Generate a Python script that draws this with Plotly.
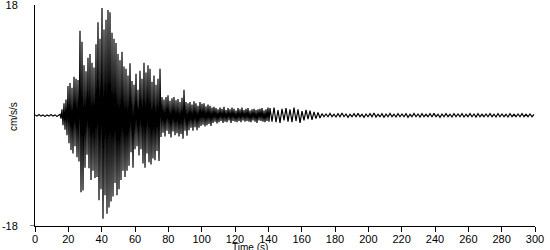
import numpy as np
import plotly.graph_objects as go

# ---- data ----
pre_t0, pre_dt = 0.0, 1.2
pre_vals = [0.1, -0.1, 0.15, -0.1, 0.1, -0.15, 0.1, -0.1, 0.15, -0.1, 0.1, -0.15, 0.1]

strong_t0, strong_dt = 15.0, 0.6
strong_vals = [
    0.2, -0.5, 1.0, -1.6, 2.0, -2.3, 2.6, -3.2, 4.8, -4.5,
    5.3, -5.6, 4.5, -6.2, 6.3, -5.0, 6.0, -6.8, 5.8, -7.5,
    13.8, -12.5, 12.0, -12.2, 8.2, -8.5, 7.2, -6.4, 9.4, -8.6,
    10.0, -10.5, 8.6, -9.0, 7.8, -10.2, 11.6, -10.0, 15.2, -13.8,
    12.5, -12.0, 17.5, -16.8, 14.0, -13.0, 15.6, -16.0, 17.2, -15.0,
    16.8, -14.0, 13.5, -13.2, 12.5, -11.0, 11.8, -13.0, 10.0, -12.0,
    9.0, -10.5, 10.4, -9.0, 8.0, -10.0, 7.6, -9.0, 6.5, -8.2,
    8.5, -6.0, 5.6, -8.5, 5.0, -5.5, 6.8, -5.0, 4.2, -6.5,
    7.3, -5.5, 6.0, -7.8, 8.6, -8.5, 7.0, -6.2, 8.2, -7.6,
    7.6, -8.0, 5.5, -7.0, 6.5, -7.3, 5.0, -5.8, 6.0, -7.4,
    7.6, -3.5, 3.0, -2.8, 2.6, -3.4, 3.0, -2.5, 3.3, -3.0,
    2.4, -3.6, 2.8, -2.6, 3.0, -3.2, 2.5, -2.9, 2.7, -3.4,
    2.2, -3.0, 2.9, -3.8, 4.2, -2.5, 2.2, -3.3, 2.0, -2.4,
    2.2, -2.0, 1.8, -2.5, 2.3, -1.9, 2.0, -2.4, 1.6, -2.0,
    2.2, -1.7, 1.9, -1.5, 2.0, -1.8, 1.5, -1.6, 1.8, -1.4,
    1.6, -1.7, 1.3, -1.2, 1.4, -1.0, 1.2, -1.3, 1.0, -1.1,
    1.3, -0.9, 1.1, -1.2, 1.4, -1.0, 0.9, -1.1, 1.2, -0.8,
    1.0, -1.2, 1.3, -0.9, 1.1, -1.0, 0.8, -1.1, 1.2, -0.9,
    1.0, -1.1, 1.3, -0.8, 0.9, -1.0, 1.1, -0.9, 1.2, -1.0,
    0.8, -1.1, 1.0, -0.8, 1.1, -1.0, 0.9, -1.2, 1.0, -0.8,
    1.1, -0.9, 1.2, -1.0, 0.8, -1.1, 1.0, -0.9, 1.3, -1.0,
]

coda_t0, coda_dt = 141.0, 1.2
coda_vals = [
    1.2, -1.0, 1.3, -1.1, 0.9, -1.2, 1.1, -0.8, 1.2, -1.0,
    1.0, -1.1, 1.3, -0.9, 1.0, -1.2, 0.7, -0.8, 0.9, -0.6,
    0.8, -0.7, 0.6, -0.5, 0.5, -0.4,
    0.3, -0.2, 0.25, -0.2, 0.35, -0.2, 0.2, -0.25, 0.3, -0.2,
    0.4, -0.2, 0.25, -0.3, 0.2, -0.2, 0.3, -0.25, 0.35, -0.2,
    0.2, -0.3, 0.25, -0.2, 0.3, -0.2, 0.4, -0.25, 0.2, -0.2,
    0.3, -0.3, 0.25, -0.2, 0.35, -0.2, 0.2, -0.25, 0.3, -0.2,
    0.25, -0.2, 0.3, -0.3, 0.2, -0.2, 0.35, -0.2, 0.25, -0.25,
    0.3, -0.2, 0.2, -0.2, 0.3, -0.25, 0.35, -0.2, 0.2, -0.3,
    0.25, -0.2, 0.3, -0.2, 0.2, -0.25, 0.3, -0.2, 0.25, -0.2,
    0.3, -0.25, 0.2, -0.2, 0.3, -0.2, 0.25, -0.25, 0.3, -0.2,
    0.2, -0.2, 0.25, -0.2, 0.3, -0.2, 0.2, -0.25, 0.3, -0.2,
    0.25, -0.2, 0.2, -0.25, 0.3, -0.2, 0.2, -0.2, 0.25, -0.2,
    0.3, -0.2, 0.2, -0.2, 0.25, -0.2, 0.2,
]

x_ticks = [0, 20, 40, 60, 80, 100, 120, 140, 160, 180, 200, 220, 240, 260, 280, 300]
y_ticks = [-18, 18]

# sample times for each recorded segment
t = np.concatenate([
    pre_t0 + pre_dt * np.arange(len(pre_vals)),
    strong_t0 + strong_dt * np.arange(len(strong_vals)),
    coda_t0 + coda_dt * np.arange(len(coda_vals)),
])
v = np.array(pre_vals + strong_vals + coda_vals)

font = dict(family="Liberation Sans, Arial, sans-serif", size=11, color="black")

fig = go.Figure(go.Scatter(x=t, y=v, mode="lines",
                           line=dict(color="black", width=1.2),
                           hoverinfo="skip"))

fig.update_layout(
    width=550, height=250,
    margin=dict(l=35, r=15, t=5, b=24),
    paper_bgcolor="white", plot_bgcolor="white",
    showlegend=False, font=font,
    xaxis=dict(range=[0, 300], tickvals=x_ticks, ticktext=[str(k) for k in x_ticks],
               showline=True, linecolor="black", linewidth=1,
               ticks="outside", ticklen=5, tickcolor="black", automargin=False,
               ticklabelstandoff=-2,
               showgrid=False, zeroline=False, tickfont=font),
    yaxis=dict(range=[-18, 18], tickvals=y_ticks, ticktext=["-18", "18"],
               showline=True, linecolor="black", linewidth=1,
               ticks="", showgrid=False, zeroline=False, automargin=False,
               ticklabelstandoff=14, ticklabeloverflow="allow", tickfont=font),
    annotations=[
        dict(text="cm/s/s", textangle=-90, xref="paper", yref="paper",
             x=-0.044, y=0.493, xanchor="center", yanchor="middle",
             showarrow=False, font=dict(family=font["family"], size=10, color="black")),
        dict(text="Time (s)", xref="paper", yref="paper",
             x=0.43, y=-0.098, xanchor="center", yanchor="middle",
             showarrow=False, font=dict(family=font["family"], size=10, color="black")),
    ],
    shapes=[dict(type="line", xref="paper", yref="y", x0=-0.01, x1=0, y0=-18, y1=-18,
                 line=dict(color="black", width=1))],
)

fig.write_html("out.html")
